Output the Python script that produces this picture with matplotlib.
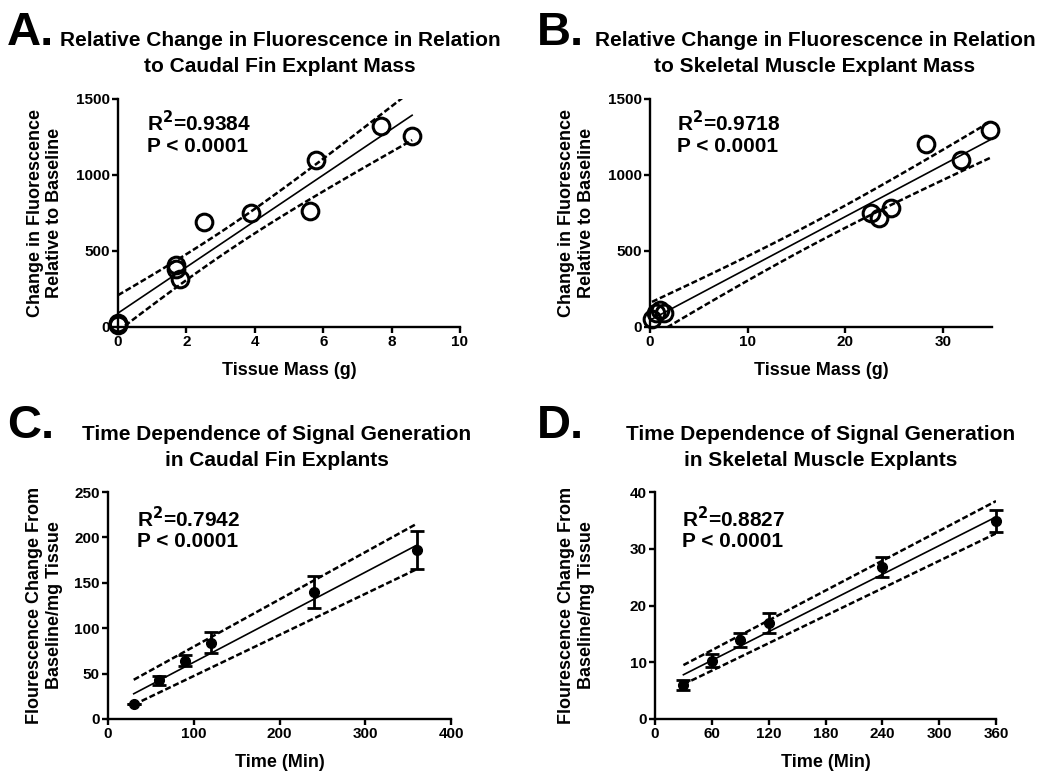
import numpy as np
import matplotlib
matplotlib.use("Agg")
import matplotlib.pyplot as plt

plt.rcParams['font.family'] = ['Liberation Sans', 'DejaVu Sans']
plt.rcParams['font.weight'] = 'bold'

# ---- data ----
# A: caudal fin, fluorescence change vs tissue mass
a_mass = [0.0, 0.0, 0.0, 1.7, 1.7, 1.8, 2.5, 3.9, 5.6, 5.8, 7.7, 8.6]
a_fluor = [15, 20, 25, 408, 380, 314, 690, 750, 760, 1100, 1324, 1259]
# B: skeletal muscle
b_mass = [0.2, 0.6, 1.0, 1.4, 22.6, 23.4, 24.7, 28.2, 31.8, 34.8]
b_fluor = [50, 95, 110, 95, 750, 715, 785, 1205, 1100, 1295]
# C: caudal fin, time course (mean +/- error)
c_time = [30, 60, 90, 120, 240, 360]
c_mean = [17, 42.5, 64.4, 84.2, 140.2, 186]
c_err = [0, 5, 6.5, 11.5, 17.7, 21]
# fit line and confidence band at the first / last time point
c_fit = [27.8, 191.4]
c_upper = [43.2, 215]
c_lower = [15.7, 165]
# D: skeletal muscle, time course
d_time = [30, 60, 90, 120, 240, 360]
d_mean = [6.0, 10.3, 13.9, 16.9, 26.8, 34.9]
d_err = [0.9, 1.2, 1.3, 1.7, 1.8, 1.9]
d_fit = [7.8, 35.6]
d_upper = [9.5, 38.4]
d_lower = [6.1, 32.7]

W, H = 1043, 774
fig = plt.figure(figsize=(W / 100, H / 100), dpi=100)


def make_ax(left, right, top, bottom):
    ax = fig.add_axes([left / W, 1 - bottom / H, (right - left) / W, (bottom - top) / H])
    for s in ['top', 'right']:
        ax.spines[s].set_visible(False)
    for s in ['left', 'bottom']:
        ax.spines[s].set_linewidth(1.7)
    ax.tick_params(direction='out', length=4, width=1.7, labelsize=11, pad=2)
    ax.set_facecolor('none')
    return ax


def bold_ticks(ax):
    for lab in ax.get_xticklabels() + ax.get_yticklabels():
        lab.set_fontweight('bold')


def fit_band(x, y, t_crit):
    # least squares fit with 95% confidence band
    x = np.asarray(x, float)
    y = np.asarray(y, float)
    slope, icpt = np.polyfit(x, y, 1)
    n = len(x)
    resid = y - (slope * x + icpt)
    s = np.sqrt(np.sum(resid ** 2) / (n - 2))
    xx = np.linspace(x.min(), x.max(), 100)
    yy = slope * xx + icpt
    half = t_crit * s * np.sqrt(1 / n + (xx - x.mean()) ** 2 / np.sum((x - x.mean()) ** 2))
    return xx, yy, yy + half, yy - half


dash = (0, (2.4, 1.1))
label_kw = dict(fontsize=13, fontweight='bold')
stat_kw = dict(fontsize=15, fontweight='bold', va='top', ha='left', linespacing=1.1)

# ---------- A ----------
ax = make_ax(118, 460, 99, 327)
xx, yy, up, lo = fit_band(a_mass, a_fluor, 2.228)
ax.plot(xx, yy, color='black', lw=1.2)
ax.plot(xx, up, color='black', lw=1.8, linestyle=dash)
ax.plot(xx, lo, color='black', lw=1.8, linestyle=dash)
ax.plot(a_mass, a_fluor, 'o', mfc='none', mec='black', mew=2.2, ms=12, clip_on=False)
ax.set_xlim(0, 10)
ax.set_ylim(0, 1500)
ax.set_xticks([0, 2, 4, 6, 8, 10])
ax.set_yticks([0, 500, 1000, 1500])
bold_ticks(ax)
ax.set_xlabel('Tissue Mass (g)', **label_kw)
ax.set_ylabel('Change in Fluorescence\nRelative to Baseline', **label_kw)
ax.xaxis.set_label_coords(0.5, -0.155)
ax.yaxis.set_label_coords(-0.16, 0.5)
ax.text(0.085, 0.95, 'R$^\\mathbf{2}$=0.9384\nP < 0.0001', transform=ax.transAxes, **stat_kw)

# ---------- B ----------
ax = make_ax(650, 992, 99, 327)
xx, yy, up, lo = fit_band(b_mass, b_fluor, 2.306)
ax.plot(xx, yy, color='black', lw=1.2)
ax.plot(xx, up, color='black', lw=1.8, linestyle=dash)
ax.plot(xx, lo, color='black', lw=1.8, linestyle=dash)
ax.plot(b_mass, b_fluor, 'o', mfc='none', mec='black', mew=2.2, ms=12, clip_on=False)
ax.set_xlim(0, 35)
ax.set_ylim(0, 1500)
ax.set_xticks([0, 10, 20, 30])
ax.set_yticks([0, 500, 1000, 1500])
bold_ticks(ax)
ax.set_xlabel('Tissue Mass (g)', **label_kw)
ax.set_ylabel('Change in Fluorescence\nRelative to Baseline', **label_kw)
ax.xaxis.set_label_coords(0.5, -0.155)
ax.yaxis.set_label_coords(-0.161, 0.5)
ax.text(0.079, 0.95, 'R$^\\mathbf{2}$=0.9718\nP < 0.0001', transform=ax.transAxes, **stat_kw)

# ---------- C ----------
ax = make_ax(108, 451, 492, 719)
ends = [c_time[0], c_time[-1]]
ax.plot(ends, c_fit, color='black', lw=1.2)
ax.plot(ends, c_upper, color='black', lw=1.8, linestyle=dash)
ax.plot(ends, c_lower, color='black', lw=1.8, linestyle=dash)
ax.errorbar(c_time, c_mean, yerr=c_err, fmt='o', color='black', ms=7, elinewidth=2,
            capsize=5, capthick=2, clip_on=False)
ax.set_xlim(0, 400)
ax.set_ylim(0, 250)
ax.set_xticks([0, 100, 200, 300, 400])
ax.set_yticks([0, 50, 100, 150, 200, 250])
bold_ticks(ax)
ax.set_xlabel('Time (Min)', **label_kw)
ax.set_ylabel('Flourescence Change From\nBaseline/mg Tissue', **label_kw)
ax.xaxis.set_label_coords(0.5, -0.155)
ax.yaxis.set_label_coords(-0.131, 0.5)
ax.text(0.085, 0.94, 'R$^\\mathbf{2}$=0.7942\nP < 0.0001', transform=ax.transAxes, **stat_kw)

# ---------- D ----------
ax = make_ax(655, 996, 492, 719)
ends = [d_time[0], d_time[-1]]
ax.plot(ends, d_fit, color='black', lw=1.2)
ax.plot(ends, d_upper, color='black', lw=1.8, linestyle=dash)
ax.plot(ends, d_lower, color='black', lw=1.8, linestyle=dash)
ax.errorbar(d_time, d_mean, yerr=d_err, fmt='o', color='black', ms=7, elinewidth=2,
            capsize=5, capthick=2, clip_on=False)
ax.set_xlim(0, 360)
ax.set_ylim(0, 40)
ax.set_xticks([0, 60, 120, 180, 240, 300, 360])
ax.set_yticks([0, 10, 20, 30, 40])
bold_ticks(ax)
ax.set_xlabel('Time (Min)', **label_kw)
ax.set_ylabel('Flourescence Change From\nBaseline/mg Tissue', **label_kw)
ax.xaxis.set_label_coords(0.5, -0.155)
ax.yaxis.set_label_coords(-0.176, 0.5)
ax.text(0.079, 0.94, 'R$^\\mathbf{2}$=0.8827\nP < 0.0001', transform=ax.transAxes, **stat_kw)

# ---------- panel letters and titles ----------
letters = [('A.', 7, 45), ('B.', 537, 45), ('C.', 7, 438), ('D.', 537, 438)]
for txt, px, py in letters:
    fig.text(px / W, 1 - py / H, txt, fontsize=34, fontweight='bold', ha='left', va='baseline')

titles = [
    (['Relative Change in Fluorescence in Relation', 'to Caudal Fin Explant Mass'], 280, 46),
    (['Relative Change in Fluorescence in Relation', 'to Skeletal Muscle Explant Mass'], 815, 46),
    (['Time Dependence of Signal Generation', 'in Caudal Fin Explants'], 277, 440),
    (['Time Dependence of Signal Generation', 'in Skeletal Muscle Explants'], 821, 440),
]
for lines, px, py in titles:
    for i, line in enumerate(lines):
        fig.text(px / W, 1 - (py + 26 * i) / H, line, fontsize=15, fontweight='bold',
                 ha='center', va='baseline')

fig.savefig('out.png', dpi=100, facecolor='white')
